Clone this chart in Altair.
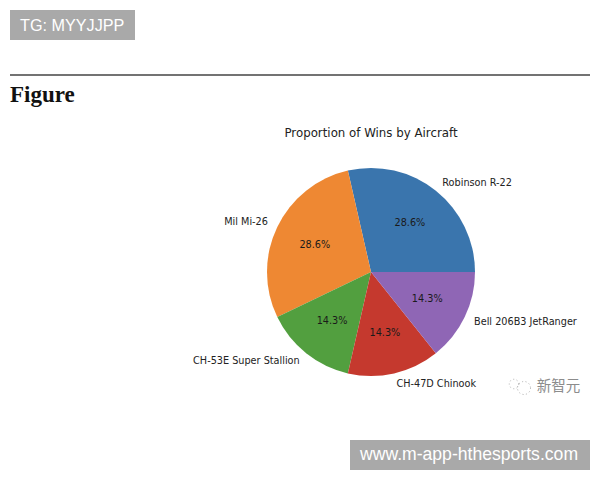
import altair as alt
import math
import pandas as pd

names = ["Robinson R-22", "Mil Mi-26", "CH-53E Super Stallion", "CH-47D Chinook", "Bell 206B3 JetRanger"]
wins = [2, 2, 1, 1, 1]
colors = ["#3a75ad", "#ee8833", "#529f3f", "#c5392e", "#8f66b5"]
label_sides = ["left", "right", "right", "left", "left"]
title_text = "Proportion of Wins by Aircraft"
heading = "Figure"
tag_top = "TG: MYYJJPP"
tag_bottom = "www.m-app-hthesports.com"
watermark = "新智元"

OX, OY = 8, 8
CX, CY = 371 - OX, 272 - OY
R = 104
total = sum(wins)
df = pd.DataFrame({
    "name": names,
    "wins": wins,
    "idx": list(range(len(names))),
    "side": label_sides,
})
df["pct"] = [f"{w / total * 100:.1f}%" for w in wins]
df["left_label"] = [n if s == "left" else "" for n, s in zip(names, label_sides)]
df["right_label"] = [n if s == "right" else "" for n, s in zip(names, label_sides)]

theta = alt.Theta("wins:Q", stack=True,
                  scale=alt.Scale(domain=[0, total], range=[math.pi / 2, math.pi / 2 - 2 * math.pi]))
order = alt.Order("idx:Q")
base = alt.Chart(df).encode(theta=theta, order=order, detail="name:N",
                            x=alt.value(CX), y=alt.value(CY))

arcs = base.mark_arc(outerRadius=R, innerRadius=0).encode(
    color=alt.Color("name:N", scale=alt.Scale(domain=names, range=colors), legend=None)
)
pct = base.mark_text(radius=R * 0.6, font="DejaVu Sans", fontSize=9.7, color="#1a1a1a",
                     align="center", baseline="middle").encode(text="pct:N")
lab_l = base.mark_text(radius=R * 1.1, font="DejaVu Sans", fontSize=9.7, color="#222222",
                       align="left", baseline="middle").encode(text="left_label:N")
lab_r = base.mark_text(radius=R * 1.1, font="DejaVu Sans", fontSize=9.7, color="#222222",
                       align="right", baseline="middle").encode(text="right_label:N")

one = pd.DataFrame({"k": [0]})


def box(x0, x1, y0, y1, color):
    return alt.Chart(one).mark_rect(color=color).encode(
        x=alt.value(x0 - OX), x2=alt.value(x1 - OX),
        y=alt.value(y0 - OY), y2=alt.value(y1 - OY))


def label(text, x, y, **kw):
    return alt.Chart(one).mark_text(text=text, baseline="middle", **kw).encode(
        x=alt.value(x - OX), y=alt.value(y - OY))


def ring(x, y, size):
    return alt.Chart(one).mark_point(size=size, filled=False, color="#8a8a8a", strokeWidth=1,
                                     strokeDash=[1, 2.5]).encode(
        x=alt.value(x - OX), y=alt.value(y - OY))


chart = alt.layer(
    box(10, 135, 10, 40, "#a9a9a9"),
    label(tag_top, 20, 25.5, font="Liberation Sans", fontSize=16.2, color="#ffffff", align="left"),
    alt.Chart(one).mark_rule(color="#444444", strokeWidth=1.5).encode(
        x=alt.value(10 - OX), x2=alt.value(590 - OX), y=alt.value(75 - OY)),
    label(heading, 10, 95, font="Liberation Serif", fontSize=23, fontWeight="bold",
          color="#111111", align="left"),
    label(title_text, 371, 133, font="DejaVu Sans", fontSize=11.8, color="#222222", align="center"),
    arcs, pct, lab_l, lab_r,
    ring(514, 384, 90), ring(524, 388, 170),
    label(watermark, 558.5, 387, font="Noto Sans CJK SC", fontSize=14.5, color="#8c8c8c", align="center"),
    box(350, 590, 440, 470, "#a9a9a9"),
    label(tag_bottom, 360, 455, font="Liberation Sans", fontSize=17.6, color="#ffffff", align="left"),
).properties(
    width=584, height=464, padding=0,
    autosize=alt.AutoSizeParams(type="none"),
).configure_view(stroke=None)

chart.save("out.html", embed_options={"renderer": "svg", "actions": False})
